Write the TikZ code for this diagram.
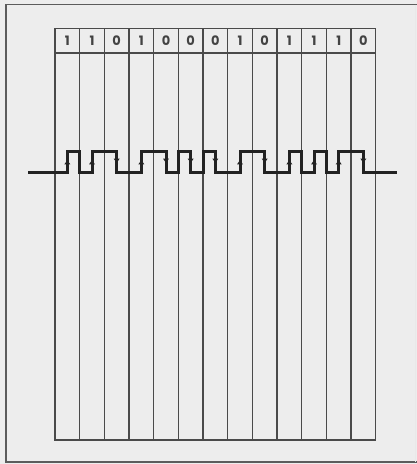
\documentclass[tikz,border=0pt]{standalone}
\usepackage{fontspec}
\setmainfont{Poppins}
\usetikzlibrary{decorations.markings,arrows.meta}
\definecolor{bg}{HTML}{EDEDED}
\definecolor{grid}{HTML}{4A4A4A}
\definecolor{wave}{HTML}{222222}
\tikzset{
  gridline/.style={draw=grid,line width=1.2pt},
  frameline/.style={draw=grid!90,line width=1.8pt},
  waveline/.style={draw=wave,line width=3pt,line join=miter},
  midarrow/.style={draw=wave,line width=3pt,postaction={decorate},
    decoration={markings,mark=at position 0.6 with {\arrow{Latex[length=5pt,width=6.5pt]}}}},
  bitlabel/.style={font=\fontsize{13}{13}\selectfont\bfseries,text=grid!90!black,inner sep=0pt}
}
\begin{document}
\begin{tikzpicture}[x=1pt,y=-1pt]
\fill[bg] (0,0) rectangle (417,464);
\useasboundingbox (0,0) rectangle (417,464);
% outer frame
\draw[frameline] (417,4.5) -- (6,4.5) -- (6,462) -- (417,462);
\draw[draw=grid!12,line width=1pt] (415,4.5) -- (415,462);
% table
\def\xo{55}\def\cw{24.67}
\def\ytop{28.5}\def\yhd{53}\def\ybot{440}
\draw[gridline] (\xo,\ytop) rectangle ({\xo+13*\cw},\ybot);
\draw[gridline] (\xo,\yhd) -- ({\xo+13*\cw},\yhd);
\foreach \i in {1,...,12}{
  \draw[gridline] ({\xo+\i*\cw},\ytop) -- ({\xo+\i*\cw},\ybot);
}
\foreach \b [count=\i from 0] in {1,1,0,1,0,0,0,1,0,1,1,1,0}{
  \node[bitlabel] (b\i) at ({\xo+(\i+0.5)*\cw},41) {\b};
}
% waveform
\def\lo{172}\def\hi{151}
\newcommand{\X}[1]{\xo+#1*\cw}
\coordinate (ws) at (28,\lo);
\coordinate (we) at (397,\lo);
\draw[waveline] (ws) -- ({\X{0.5}},\lo) -- ({\X{0.5}},\hi) -- ({\X{1}},\hi) -- ({\X{1}},\lo)
 -- ({\X{1.5}},\lo) -- ({\X{1.5}},\hi) -- ({\X{2.5}},\hi) -- ({\X{2.5}},\lo)
 -- ({\X{3.5}},\lo) -- ({\X{3.5}},\hi) -- ({\X{4.5}},\hi) -- ({\X{4.5}},\lo)
 -- ({\X{5}},\lo) -- ({\X{5}},\hi) -- ({\X{5.5}},\hi) -- ({\X{5.5}},\lo)
 -- ({\X{6}},\lo) -- ({\X{6}},\hi) -- ({\X{6.5}},\hi) -- ({\X{6.5}},\lo)
 -- ({\X{7.5}},\lo) -- ({\X{7.5}},\hi) -- ({\X{8.5}},\hi) -- ({\X{8.5}},\lo)
 -- ({\X{9.5}},\lo) -- ({\X{9.5}},\hi) -- ({\X{10}},\hi) -- ({\X{10}},\lo)
 -- ({\X{10.5}},\lo) -- ({\X{10.5}},\hi) -- ({\X{11}},\hi) -- ({\X{11}},\lo)
 -- ({\X{11.5}},\lo) -- ({\X{11.5}},\hi) -- ({\X{12.5}},\hi) -- ({\X{12.5}},\lo)
 -- (we);
% mid-cell transition arrows (1: up, 0: down)
\foreach \b [count=\i from 0] in {1,1,0,1,0,0,0,1,0,1,1,1,0}{
  \ifnum\b=1
    \draw[midarrow] ({\X{(\i+0.5)}},\lo) -- ({\X{(\i+0.5)}},\hi);
  \else
    \draw[midarrow] ({\X{(\i+0.5)}},\hi) -- ({\X{(\i+0.5)}},\lo);
  \fi
}
\end{tikzpicture}
\end{document}
